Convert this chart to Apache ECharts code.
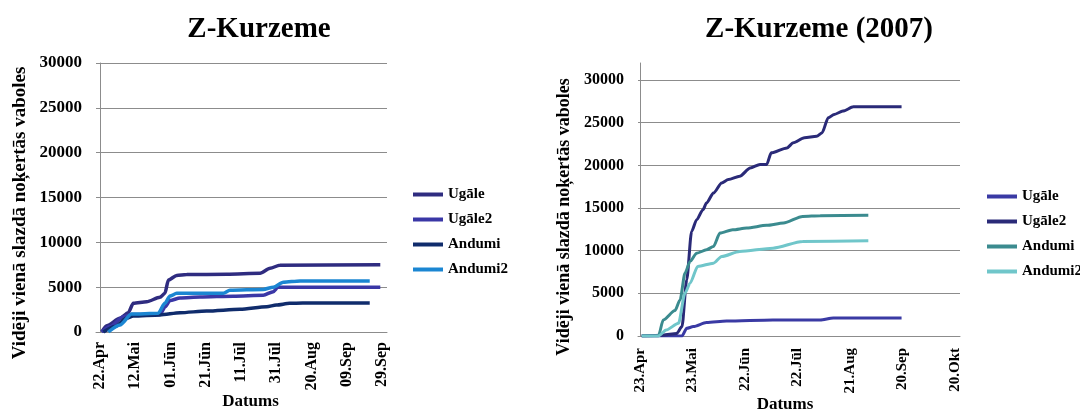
<!DOCTYPE html>
<html>
<head>
<meta charset="utf-8">
<script src="https://cdn.jsdelivr.net/npm/echarts@6/dist/echarts.min.js"></script>
<style>
  body { margin: 0; background: #fff; }
  #wrap { width: 1080px; height: 410px; position: relative; }
  #leftChart { position: absolute; left: 0; top: 0; width: 540px; height: 410px; }
  #rightChart { position: absolute; left: 540px; top: 0; width: 540px; height: 410px; }
</style>
</head>
<body>
<div id="wrap">
  <div id="leftChart"></div>
  <div id="rightChart"></div>
</div>
<script>
// x values are days since the first tick date of each chart
const seriesNames = ["Ugāle", "Ugāle2", "Andumi", "Andumi2"];

// left chart: Z-Kurzeme, day 0 = 22.Apr, a tick every 20 days
const leftTickLabels = ["22.Apr", "12.Mai", "01.Jūn", "21.Jūn", "11.Jūl", "31.Jūl", "20.Aug", "09.Sep", "29.Sep"];
const leftUgaleDays = [1, 3.8, 11.3, 16, 18.9, 26.5, 34, 36.8, 38.8, 43.5, 49.2, 71.9, 90.8, 96.5, 102, 159];
const leftUgaleVals = [0, 700, 1520, 2160, 3200, 3380, 3870, 4310, 5800, 6300, 6400, 6450, 6550, 7100, 7450, 7500];
const leftUgale2Days = [1, 5.7, 13.2, 17.9, 34, 37, 39.7, 45.4, 56.7, 75.6, 92.6, 98.3, 101, 159];
const leftUgale2Vals = [0, 600, 1710, 1950, 1950, 2800, 3500, 3800, 3900, 4000, 4100, 4500, 5000, 5000];
const leftAndumiDays = [1.9, 8.5, 15, 18.9, 34, 45.4, 60.5, 79.4, 94.6, 100, 107.6, 115, 153];
const leftAndumiVals = [0, 600, 1520, 1780, 1900, 2150, 2340, 2530, 2820, 3010, 3200, 3230, 3230];
const leftAndumi2Days = [4.7, 11.3, 17.9, 33, 36.8, 39.7, 43.5, 70, 73.7, 92.6, 98.3, 104, 113.5, 153];
const leftAndumi2Vals = [0, 780, 2000, 2080, 3200, 4010, 4310, 4310, 4650, 4750, 5000, 5550, 5700, 5700];
const leftColors = ["#2f2c80", "#3a37a6", "#102c6c", "#1b86d2"];

// right chart: Z-Kurzeme (2007), day 0 = 23.Apr, a tick every 30 days
const rightTickLabels = ["23.Apr", "23.Mai", "22.Jūn", "22.Jūl", "21.Aug", "20.Sep", "20.Okt"];
const rightUgaleDays = [1, 24, 26.7, 30.5, 38, 49.5, 76, 103, 110.5, 149.5];
const rightUgaleVals = [0, 0, 900, 1100, 1570, 1760, 1880, 1880, 2100, 2100];
const rightUgale2Days = [1, 13, 21, 24, 26.7, 29.5, 32.4, 36, 38, 42, 46.7, 50.5, 57, 63, 68.6, 72.4, 75, 84, 87.6, 94, 101, 104, 107.6, 111, 116, 122, 149.5];
const rightUgale2Vals = [0, 100, 300, 1100, 6580, 12260, 13630, 14800, 15590, 16760, 17940, 18330, 18720, 19700, 20100, 20100, 21470, 22050, 22640, 23230, 23420, 23800, 25580, 25970, 26360, 26870, 26870];
const rightAndumiDays = [1, 10.5, 13.3, 20, 22.9, 25.7, 28.6, 32.4, 38, 42, 45.7, 53, 61, 72.4, 82, 93, 103, 130.5];
const rightAndumiVals = [0, 0, 1880, 2980, 4230, 7360, 8730, 9710, 10100, 10500, 12060, 12450, 12650, 12970, 13240, 14020, 14100, 14140];
const rightAndumi2Days = [1, 10.5, 15, 22, 25.7, 28.6, 33, 42, 46.7, 57, 76, 93, 130.5];
const rightAndumi2Vals = [0, 0, 700, 1490, 5010, 6190, 8150, 8540, 9320, 9910, 10300, 11080, 11160];
const rightColors = ["#3a3aa4", "#2a2a78", "#3b8b8f", "#70c6ca"];

const serif = "'Liberation Serif', 'DejaVu Serif', serif";
const gridColor = "#8c8c8c";

function pairs(days, vals) {
  return days.map((d, i) => [d, vals[i]]);
}

function makeOption(cfg) {
  return {
    animation: false,
    title: {
      text: cfg.title,
      left: cfg.titleX,
      top: 10,
      textAlign: "center",
      textStyle: { fontFamily: serif, fontWeight: "bold", fontSize: 29, color: "#000" }
    },
    legend: {
      orient: "vertical",
      left: cfg.legendLeft,
      top: cfg.legendTop,
      icon: "rect",
      itemWidth: 30,
      itemHeight: 4,
      itemGap: 10,
      textStyle: { fontFamily: serif, fontWeight: "bold", fontSize: 15, color: "#000" },
      data: seriesNames
    },
    grid: Object.assign({ outerBoundsMode: "none", containLabel: false }, cfg.grid),
    xAxis: {
      type: "value",
      min: cfg.xMin,
      max: cfg.xMax,
      name: "Datums",
      nameLocation: "middle",
      nameGap: cfg.xNameGap,
      nameMoveOverlap: false,
      nameTextStyle: { fontFamily: serif, fontWeight: "bold", fontSize: 17, color: "#000", padding: cfg.xNamePad },
      axisLine: { show: true, lineStyle: { color: gridColor } },
      axisTick: { show: false },
      splitLine: { show: false },
      axisLabel: {
        customValues: cfg.ticks.map((_, i) => i * cfg.xStep),
        rotate: 90,
        margin: cfg.xLabelMargin,
        fontFamily: serif,
        fontWeight: "bold",
        fontSize: cfg.xLabelFont,
        color: "#000",
        formatter: v => cfg.ticks[Math.round(v / cfg.xStep)] || ""
      }
    },
    yAxis: {
      type: "value",
      min: 0,
      max: cfg.yMax,
      interval: 5000,
      name: "Vidēji vienā slazdā noķertās vaboles",
      nameLocation: "middle",
      nameGap: cfg.yNameGap,
      nameMoveOverlap: false,
      nameTextStyle: { fontFamily: serif, fontWeight: "bold", fontSize: cfg.yNameFont, color: "#000", padding: cfg.yNamePad },
      axisLine: { show: true, lineStyle: { color: gridColor } },
      axisTick: { show: false },
      splitLine: { show: true, showMaxLine: cfg.showMaxLine, lineStyle: { color: gridColor, width: 1 } },
      axisLabel: {
        margin: 14,
        fontFamily: serif,
        fontWeight: "bold",
        fontSize: cfg.yLabelFont,
        color: "#000",
        formatter: v => (v % 5000 === 0 ? String(v) : "")
      }
    },
    series: cfg.data.map((d, i) => ({
      name: seriesNames[i],
      type: "line",
      data: d,
      showSymbol: false,
      smooth: 0.25,
      smoothMonotone: "x",
      color: cfg.colors[i],
      lineStyle: { width: cfg.lineWidth, color: cfg.colors[i] }
    }))
  };
}

const leftChart = echarts.init(document.getElementById("leftChart"));
leftChart.setOption(makeOption({
  title: "Z-Kurzeme",
  titleX: 254,
  legendLeft: 408,
  legendTop: 182,
  grid: { left: 96, right: 153, top: 63, bottom: 78 },
  xMin: -2.27,
  xMax: 162.8,
  xStep: 20,
  xLabelMargin: 10,
  xLabelFont: 16,
  xNameGap: 61,
  xNamePad: [0, 0, 0, 18],
  yMax: 30000,
  yLabelFont: 17,
  yNameGap: 66,
  yNameFont: 19,
  yNamePad: [0, 31, 0, 0],
  showMaxLine: true,
  ticks: leftTickLabels,
  colors: leftColors,
  lineWidth: 3.5,
  data: [
    pairs(leftUgaleDays, leftUgaleVals),
    pairs(leftUgale2Days, leftUgale2Vals),
    pairs(leftAndumiDays, leftAndumiVals),
    pairs(leftAndumi2Days, leftAndumi2Vals)
  ]
}));

const rightChart = echarts.init(document.getElementById("rightChart"));
rightChart.setOption(makeOption({
  title: "Z-Kurzeme (2007)",
  titleX: 274,
  legendLeft: 442,
  legendTop: 184,
  grid: { left: 98, right: 120, top: 63, bottom: 74 },
  xMin: -1.14,
  xMax: 182.9,
  xStep: 30,
  xLabelMargin: 12,
  xLabelFont: 15,
  xNameGap: 60,
  xNamePad: [0, 28, 0, 0],
  yMax: 32000,
  yLabelFont: 16,
  yNameGap: 65,
  yNameFont: 18,
  yNamePad: [0, 35, 0, 0],
  showMaxLine: false,
  ticks: rightTickLabels,
  colors: rightColors,
  lineWidth: 3,
  data: [
    pairs(rightUgaleDays, rightUgaleVals),
    pairs(rightUgale2Days, rightUgale2Vals),
    pairs(rightAndumiDays, rightAndumiVals),
    pairs(rightAndumi2Days, rightAndumi2Vals)
  ]
}));
</script>
</body>
</html>
